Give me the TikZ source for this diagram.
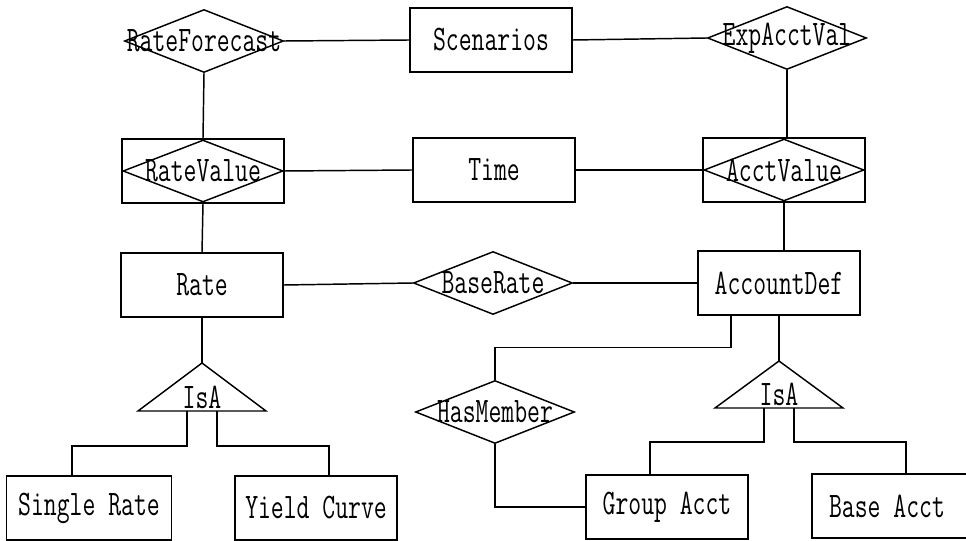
\documentclass[tikz,border=0pt]{standalone}
\usepackage{fontspec}
\usepackage{graphicx}
\usetikzlibrary{shapes.geometric,calc}
\newcommand{\ertxt}[1]{\scalebox{0.82}[1.18]{#1}}
\newcommand{\reltxt}[1]{\makebox[0pt]{\ertxt{#1}}}
\tikzset{
    entity/.style={draw, rectangle, minimum width=4.86cm, minimum height=1.92cm, inner sep=0pt},
    relation/.style={draw, diamond, minimum width=4.77cm, minimum height=1.89cm, inner sep=0pt},
}
\begin{document}
\begin{tikzpicture}[x=0.03cm, y=-0.03cm, line width=1.25pt, font=\ttfamily\fontsize{26}{28}\selectfont]
        \useasboundingbox (0,0) rectangle (966,541);
        \clip (0,0) rectangle (966,541);
        % top row
        \node[relation] (rateforecast) at (204,41)  {\reltxt{RateForecast}};
        \node[entity]   (scenarios)    at (491,40)  {\ertxt{Scenarios}};
        \node[relation] (expacctval)   at (787,38)  {\reltxt{ExpAcctVal}};
        % second row
        \node[entity]   (ratevalue)    at (203,171) {};
        \node[relation, minimum width=4.8cm, minimum height=1.86cm] (ratevalueD) at (ratevalue) {\reltxt{RateValue}};
        \node[entity]   (time)         at (494,170) {\ertxt{Time}};
        \node[entity]   (acctvalue)    at (784,170) {};
        \node[relation, minimum width=4.8cm, minimum height=1.86cm] (acctvalueD) at (acctvalue) {\reltxt{AcctValue}};
        % third row
        \node[entity]   (rate)         at (202,285) {\ertxt{Rate}};
        \node[relation] (baserate)     at (493,283) {\reltxt{BaseRate}};
        \node[entity]   (acctdef)      at (779,283) {\ertxt{AccountDef}};
        \node[relation] (hasmember)    at (495,412) {\reltxt{HasMember}};
        % bottom row
        \node[entity, minimum width=4.95cm] (singlerate) at (89,508) {\ertxt{Single Rate}};
        \node[entity]   (yieldcurve)   at (316,508) {\ertxt{Yield Curve}};
        \node[entity]   (groupacct)    at (667,507) {\ertxt{Group Acct}};
        \node[entity, minimum width=5.1cm] (baseacct) at (897,506) {\ertxt{Base Acct}\kern0.6cm};

        % IsA triangles
        \coordinate (isaL) at (202,363);
        \draw (isaL) -- ++(64,48) -- ++(-128,0) -- cycle;
        \node (isaLtext) at ($(isaL)+(0,34)$) {\ertxt{IsA}};
        \coordinate (isaR) at (779,361);
        \draw (isaR) -- ++(64,47) -- ++(-128,0) -- cycle;
        \node (isaRtext) at ($(isaR)+(0,33)$) {\ertxt{IsA}};

        % relationship lines
        \draw (rateforecast.east) -- (scenarios.west);
        \draw (scenarios.east)    -- (expacctval.west);
        \draw (rateforecast.south) -- (ratevalue.north);
        \draw (expacctval.south)  -- (expacctval.south |- acctvalue.north);
        \draw (ratevalueD.east)   -- (time.west);
        \draw (time.east)         -- (acctvalueD.west);
        \draw (ratevalue.south)   -- (rate.north);
        \draw (acctvalue.south)   -- (acctvalue.south |- acctdef.north);
        \draw (rate.east)         -- (baserate.west);
        \draw (baserate.east)     -- (acctdef.west);
        \draw ($(acctdef.south)+(-48,0)$) -- ++(0,32) -| (hasmember.north);
        \draw (hasmember.south)   |- (groupacct.west);

        % generalisation lines
        \draw (rate.south)    -- (isaL);
        \draw (acctdef.south) -- (isaR);
        \draw ($(isaL)+(-15,48)$) -- ++(0,35) -| ($(singlerate.north)+(-17,0)$);
        \draw ($(isaL)+(15,48)$)  -- ++(0,35) -| ($(yieldcurve.north)+(13,0)$);
        \draw ($(isaR)+(-15,47)$) -- ++(0,34) -| ($(groupacct.north)+(-17,0)$);
        \draw ($(isaR)+(15,47)$)  -- ++(0,34) -| ($(baseacct.north)+(9,0)$);
    \end{tikzpicture}
\end{document}
